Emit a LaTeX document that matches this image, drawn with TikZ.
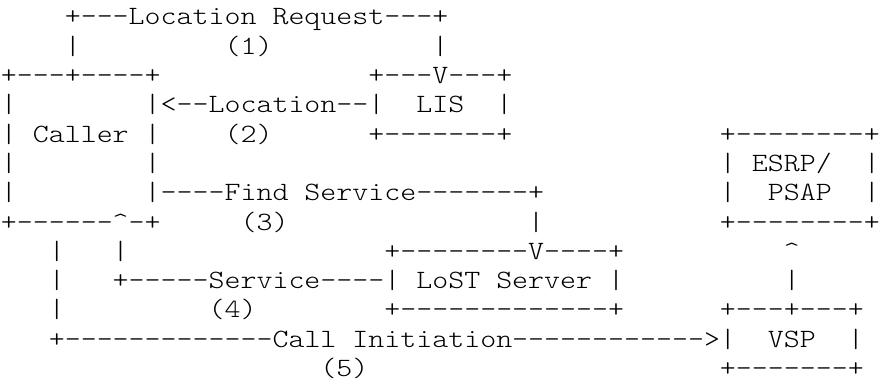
\documentclass[tikz,border=0pt]{standalone}
\usepackage{fontspec}
\setmonofont{lmmonolt10-regular.otf}[FakeStretch=1.153]
\usepackage{tikz}
\tikzstyle{ascii} = [anchor=base west, inner sep=0pt, font=\ttfamily\fontsize{13.2pt}{14pt}\selectfont]

\begin{document}
\begin{tikzpicture}[x=7.99pt, y=-14.65pt]
\useasboundingbox (-0.03,0.147) rectangle (55.04,13.287);

% location request from the caller to the LIS
\node[ascii] (req)       at (4,1)  {+---Location Request---+};
\node[ascii] (reqL)      at (4,2)  {|};
\node[ascii] (one)       at (14,2) {(1)};
\node[ascii] (reqR)      at (27,2) {|};
\node[ascii] (callerTop) at (0,3)  {+---+----+};
\node[ascii] (lisTop)    at (23,3) {+---V---+};
\node[ascii] (callerA)   at (0,4)  {|};
\node[ascii] (loc)       at (9,4)  {|<--Location--|};
\node[ascii] (lis)       at (26,4) {LIS};
\node[ascii] (lisR)      at (31,4) {|};
\node[ascii] (callerB)   at (0,5)  {|};
\node[ascii] (caller)    at (2,5)  {Caller};
\node[ascii] (callerBR)  at (9,5)  {|};
\node[ascii] (two)       at (14,5) {(2)};
\node[ascii] (lisBot)    at (23,5) {+-------+};
\node[ascii] (psapTop)   at (45,5) {+--------+};

% find service towards the LoST server
\node[ascii] (callerC)   at (0,6)  {|};
\node[ascii] (callerCR)  at (9,6)  {|};
\node[ascii] (psapL)     at (45,6) {|};
\node[ascii] (esrp)      at (47,6) {ESRP/};
\node[ascii] (psapR)     at (54,6) {|};
\node[ascii] (callerD)   at (0,7)  {|};
\node[ascii] (find)      at (9,7)  {|----Find Service-------+};
\node[ascii] (psapL2)    at (45,7) {|};
\node[ascii] (psap)      at (48,7) {PSAP};
\node[ascii] (psapR2)    at (54,7) {|};
\node[ascii] (callerBot) at (0,8)  {+------\textasciicircum-+};
\node[ascii] (three)     at (15,8) {(3)};
\node[ascii] (findV)     at (33,8) {|};
\node[ascii] (psapBot)   at (45,8) {+--------+};

% service answer and call initiation
\node[ascii] (callV)     at (3,9)  {|};
\node[ascii] (servV)     at (7,9)  {|};
\node[ascii] (lostTop)   at (24,9) {+--------V----+};
\node[ascii] (upTip)     at (49,9) {\textasciicircum};
\node[ascii] (callV2)    at (3,10) {|};
\node[ascii] (serv)      at (7,10) {+-----Service----| LoST Server |};
\node[ascii] (upV)       at (49,10) {|};
\node[ascii] (callV3)    at (3,11) {|};
\node[ascii] (four)      at (13,11) {(4)};
\node[ascii] (lostBot)   at (24,11) {+-------------+};
\node[ascii] (vspTop)    at (45,11) {+---+---+};
\node[ascii] (call)      at (3,12) {+-------------Call Initiation------------>|};
\node[ascii] (vsp)       at (48,12) {VSP};
\node[ascii] (vspR)      at (53,12) {|};
\node[ascii] (five)      at (20,13) {(5)};
\node[ascii] (vspBot)    at (45,13) {+-------+};

\end{tikzpicture}
\end{document}
